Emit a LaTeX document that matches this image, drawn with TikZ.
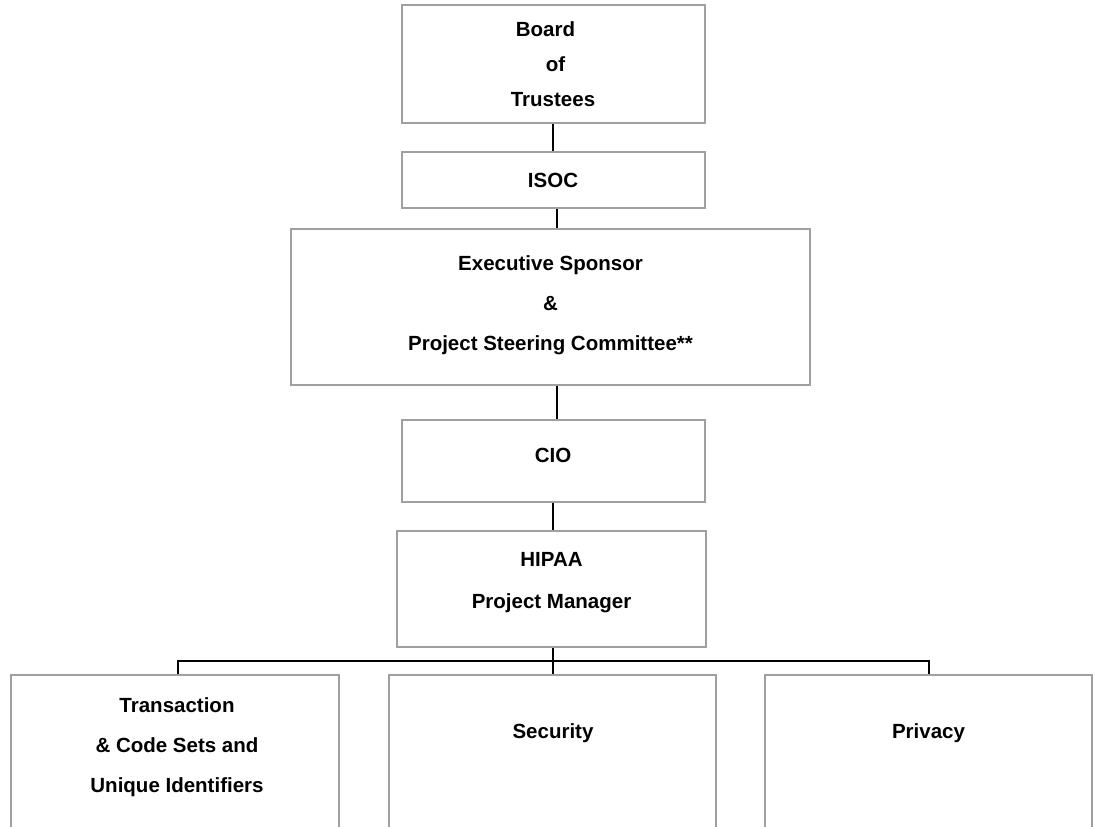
\documentclass[tikz,border=0pt]{standalone}
\usepackage{fontspec}
\setmainfont{Liberation Sans}
\begin{document}
\begin{tikzpicture}[x=1pt,y=1pt,
  box/.style={draw=boxgray, line width=2pt, inner sep=0pt, anchor=center},
  txt/.style={align=center, font=\bfseries\fontsize{20.5}{42}\selectfont, inner sep=0pt},
  conn/.style={draw=black, line width=1.2pt},
  thickconn/.style={draw=black, line width=2.2pt}]
\definecolor{boxgray}{HTML}{A0A0A0}
\clip (0,0) rectangle (1095,-827);
\fill[white] (0,0) rectangle (1095,-827);
% boxes
\node[box, minimum width=303, minimum height=118] (board) at (553,-64) {};
\node[box, minimum width=303, minimum height=56] (isoc) at (553,-180) {};
\node[box, minimum width=519, minimum height=156] (exec) at (550.5,-307) {};
\node[box, minimum width=303, minimum height=82] (cio) at (553,-461) {};
\node[box, minimum width=309, minimum height=116] (hipaa) at (551.5,-589) {};
\node[box, minimum width=328, minimum height=240] (tcs) at (175,-795) {};
\node[box, minimum width=327, minimum height=240] (sec) at (552.5,-795) {};
\node[box, minimum width=327, minimum height=240] (priv) at (928.5,-795) {};
% texts
\node[txt, font=\bfseries\fontsize{20.5}{35}\selectfont] (boardT) at (553,-64) {Board\hspace*{15pt}\\\hspace*{5pt}of\\Trustees};
\node[txt] (isocT) at (553,-180) {ISOC};
\node[txt, font=\bfseries\fontsize{20.5}{40}\selectfont] (execT) at (550.5,-305) {Executive Sponsor\\\&\\Project Steering Committee**};
\node[txt] (cioT) at (553,-455) {CIO};
\node[txt] (hipaaT) at (551.5,-583) {HIPAA\\Project Manager};
\node[txt, font=\bfseries\fontsize{20.5}{40}\selectfont] (tcsT) at (177,-747) {Transaction\\\& Code Sets and\\Unique Identifiers};
\node[txt] (secT) at (553,-733) {Security};
\node[txt] (privT) at (928.5,-733) {Privacy};
% connectors
\coordinate (bus) at (553,-661);
\draw[thickconn] (board.south -| 553,0) -- (isoc.north -| 553,0);
\draw[conn] (isoc.south -| 557,0) -- (exec.north -| 557,0);
\draw[conn] (exec.south -| 557,0) -- (cio.north -| 557,0);
\draw[thickconn] (cio.south -| 553,0) -- (hipaa.north -| 553,0);
\draw[thickconn] (hipaa.south -| bus) -- (bus);
\draw[thickconn] (tcs.north -| 178,0) |- (bus);
\draw[conn] (bus) -| (priv.north -| 929,0);
\draw[conn] (bus) -- (sec.north -| bus);
\end{tikzpicture}
\end{document}
